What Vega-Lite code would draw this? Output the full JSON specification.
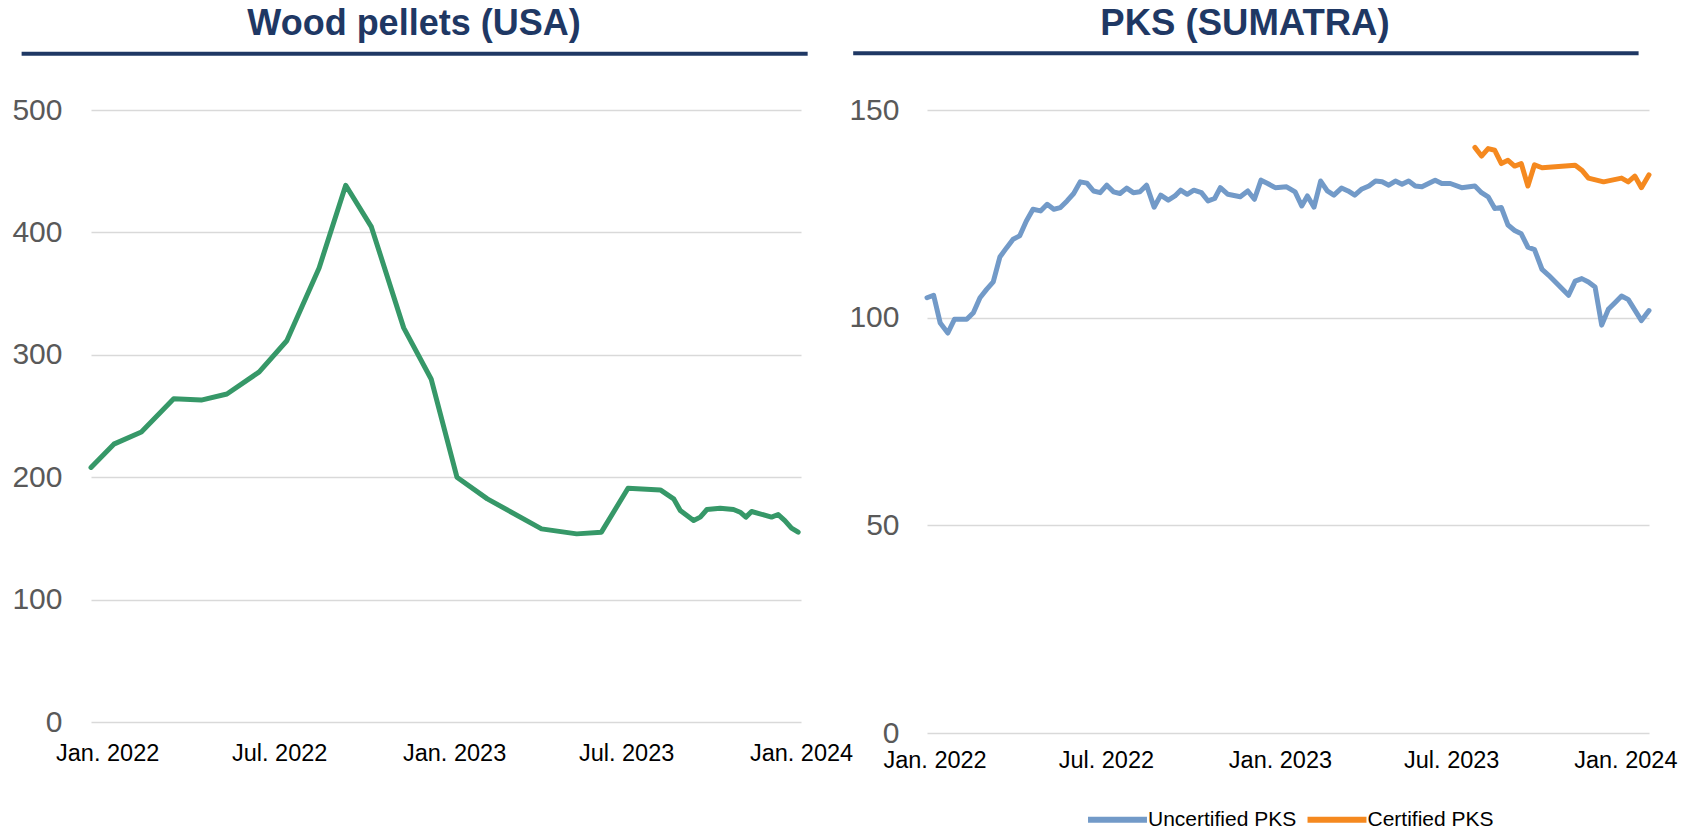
{
  "$schema": "https://vega.github.io/schema/vega-lite/v6.json",
  "background": "white",
  "padding": {"left": 11, "top": 5, "right": 5, "bottom": 0},
  "config": {
    "font": "Liberation Sans",
    "view": {"stroke": null},
    "axis": {"labelFont": "Liberation Sans", "titleFont": "Liberation Sans"},
    "legend": {"labelFont": "Liberation Sans"},
    "title": {"font": "Liberation Sans"}
  },
  "bounds": "flush",
  "spacing": 126,
  "resolve": {
    "scale": {"x": "independent", "y": "independent", "color": "independent"},
    "legend": {"color": "independent"}
  },
  "hconcat": [
    {
      "width": 710,
      "height": 612,
      "title": {"text": "Wood pellets (USA)", "fontSize": 36, "fontWeight": "bold", "color": "#1f3864", "anchor": "middle", "frame": "group", "dx": -32, "offset": 9},
      "layer": [
        {
          "data": {"values": [
            {"date": "2021-12-15", "price": 208},
            {"date": "2022-01-08", "price": 227},
            {"date": "2022-02-06", "price": 237},
            {"date": "2022-03-12", "price": 264},
            {"date": "2022-04-10", "price": 263},
            {"date": "2022-05-07", "price": 268},
            {"date": "2022-06-10", "price": 286},
            {"date": "2022-07-09", "price": 311.5},
            {"date": "2022-08-12", "price": 371},
            {"date": "2022-09-09", "price": 438.5},
            {"date": "2022-10-06", "price": 404.5},
            {"date": "2022-11-09", "price": 322},
            {"date": "2022-12-08", "price": 280},
            {"date": "2023-01-04", "price": 200},
            {"date": "2023-02-05", "price": 182.3},
            {"date": "2023-04-03", "price": 157.8},
            {"date": "2023-05-10", "price": 153.7},
            {"date": "2023-06-05", "price": 155.1},
            {"date": "2023-07-03", "price": 191},
            {"date": "2023-08-06", "price": 189.6},
            {"date": "2023-08-20", "price": 182.3},
            {"date": "2023-08-27", "price": 172.8},
            {"date": "2023-09-10", "price": 164.6},
            {"date": "2023-09-17", "price": 167.4},
            {"date": "2023-09-24", "price": 173.6},
            {"date": "2023-10-08", "price": 174.7},
            {"date": "2023-10-22", "price": 173.6},
            {"date": "2023-10-29", "price": 171.4},
            {"date": "2023-11-04", "price": 167.4},
            {"date": "2023-11-10", "price": 172},
            {"date": "2023-12-01", "price": 167.4},
            {"date": "2023-12-08", "price": 169.5},
            {"date": "2023-12-15", "price": 164.6},
            {"date": "2023-12-22", "price": 158.4},
            {"date": "2023-12-29", "price": 155.1}
          ]},
          "mark": {"type": "line", "color": "#369868", "strokeWidth": 5, "strokeJoin": "round", "strokeCap": "round"},
          "encoding": {
            "x": {
              "field": "date", "type": "temporal",
              "scale": {"type": "utc", "domain": [{"year": 2021, "month": 12, "date": 15, "utc": true}, {"year": 2024, "month": 1, "date": 1, "utc": true}]},
              "axis": {
                "title": null, "format": "%b. %Y", "grid": false, "domain": false, "ticks": false,
                "values": [
                  {"year": 2022, "month": 1, "date": 1, "utc": true},
                  {"year": 2022, "month": 7, "date": 1, "utc": true},
                  {"year": 2023, "month": 1, "date": 1, "utc": true},
                  {"year": 2023, "month": 7, "date": 1, "utc": true},
                  {"year": 2024, "month": 1, "date": 1, "utc": true}
                ],
                "labelPadding": 19, "labelFontSize": 23.5, "labelColor": "#000000",
                "labelFlush": false, "labelOverlap": false, "labelBound": false
              }
            },
            "y": {
              "field": "price", "type": "quantitative",
              "scale": {"domain": [0, 500], "nice": false, "zero": true},
              "axis": {
                "title": null, "values": [0, 100, 200, 300, 400, 500], "grid": true, "gridColor": "#d9d9d9", "gridWidth": 1.5,
                "domain": false, "ticks": false, "labelPadding": 29, "labelFontSize": 30, "labelColor": "#595959"
              }
            }
          }
        },
        {
          "data": {"values": [{}]},
          "mark": {"type": "rule", "color": "#1f3864", "strokeWidth": 4, "clip": false},
          "encoding": {
            "x": {"datum": {"year": 2021, "month": 10, "date": 3, "utc": true}, "type": "temporal", "scale": {"type": "utc"}},
            "x2": {"datum": {"year": 2024, "month": 1, "date": 8, "utc": true}},
            "y": {"datum": 546, "type": "quantitative"}
          }
        }
      ]
    },
    {
      "width": 722,
      "height": 623,
      "title": {"text": "PKS (SUMATRA)", "fontSize": 36.5, "fontWeight": "bold", "color": "#1f3864", "anchor": "middle", "frame": "group", "dx": -43, "offset": 9},
      "layer": [
        {
          "data": {"values": [
            {"date": "2021-12-24", "series": "Uncertified PKS", "price": 104.8},
            {"date": "2021-12-31", "series": "Uncertified PKS", "price": 105.4},
            {"date": "2022-01-07", "series": "Uncertified PKS", "price": 98.7},
            {"date": "2022-01-15", "series": "Uncertified PKS", "price": 96.3},
            {"date": "2022-01-22", "series": "Uncertified PKS", "price": 99.6},
            {"date": "2022-02-04", "series": "Uncertified PKS", "price": 99.6},
            {"date": "2022-02-11", "series": "Uncertified PKS", "price": 101.2},
            {"date": "2022-02-18", "series": "Uncertified PKS", "price": 104.8},
            {"date": "2022-02-25", "series": "Uncertified PKS", "price": 106.8},
            {"date": "2022-03-04", "series": "Uncertified PKS", "price": 108.6},
            {"date": "2022-03-11", "series": "Uncertified PKS", "price": 114.6},
            {"date": "2022-03-18", "series": "Uncertified PKS", "price": 116.8},
            {"date": "2022-03-25", "series": "Uncertified PKS", "price": 118.9},
            {"date": "2022-04-01", "series": "Uncertified PKS", "price": 119.7},
            {"date": "2022-04-08", "series": "Uncertified PKS", "price": 123.3},
            {"date": "2022-04-15", "series": "Uncertified PKS", "price": 126.1},
            {"date": "2022-04-23", "series": "Uncertified PKS", "price": 125.7},
            {"date": "2022-04-30", "series": "Uncertified PKS", "price": 127.3},
            {"date": "2022-05-07", "series": "Uncertified PKS", "price": 126.1},
            {"date": "2022-05-14", "series": "Uncertified PKS", "price": 126.5},
            {"date": "2022-05-21", "series": "Uncertified PKS", "price": 128.1},
            {"date": "2022-05-28", "series": "Uncertified PKS", "price": 129.9},
            {"date": "2022-06-04", "series": "Uncertified PKS", "price": 132.7},
            {"date": "2022-06-11", "series": "Uncertified PKS", "price": 132.4},
            {"date": "2022-06-18", "series": "Uncertified PKS", "price": 130.5},
            {"date": "2022-06-25", "series": "Uncertified PKS", "price": 130.1},
            {"date": "2022-07-02", "series": "Uncertified PKS", "price": 131.9},
            {"date": "2022-07-09", "series": "Uncertified PKS", "price": 130.3},
            {"date": "2022-07-16", "series": "Uncertified PKS", "price": 129.9},
            {"date": "2022-07-23", "series": "Uncertified PKS", "price": 131.2},
            {"date": "2022-07-30", "series": "Uncertified PKS", "price": 130.1},
            {"date": "2022-08-06", "series": "Uncertified PKS", "price": 130.3},
            {"date": "2022-08-13", "series": "Uncertified PKS", "price": 131.9},
            {"date": "2022-08-21", "series": "Uncertified PKS", "price": 126.6},
            {"date": "2022-08-28", "series": "Uncertified PKS", "price": 129.5},
            {"date": "2022-09-05", "series": "Uncertified PKS", "price": 128.3},
            {"date": "2022-09-12", "series": "Uncertified PKS", "price": 129.3},
            {"date": "2022-09-18", "series": "Uncertified PKS", "price": 130.7},
            {"date": "2022-09-25", "series": "Uncertified PKS", "price": 129.7},
            {"date": "2022-10-02", "series": "Uncertified PKS", "price": 130.7},
            {"date": "2022-10-10", "series": "Uncertified PKS", "price": 130.1},
            {"date": "2022-10-17", "series": "Uncertified PKS", "price": 128.1},
            {"date": "2022-10-24", "series": "Uncertified PKS", "price": 128.7},
            {"date": "2022-10-30", "series": "Uncertified PKS", "price": 131.3},
            {"date": "2022-11-07", "series": "Uncertified PKS", "price": 129.7},
            {"date": "2022-11-20", "series": "Uncertified PKS", "price": 129.1},
            {"date": "2022-11-28", "series": "Uncertified PKS", "price": 130.5},
            {"date": "2022-12-05", "series": "Uncertified PKS", "price": 128.5},
            {"date": "2022-12-12", "series": "Uncertified PKS", "price": 133.1},
            {"date": "2022-12-19", "series": "Uncertified PKS", "price": 132.3},
            {"date": "2022-12-27", "series": "Uncertified PKS", "price": 131.3},
            {"date": "2023-01-08", "series": "Uncertified PKS", "price": 131.5},
            {"date": "2023-01-17", "series": "Uncertified PKS", "price": 130.3},
            {"date": "2023-01-24", "series": "Uncertified PKS", "price": 126.9},
            {"date": "2023-01-30", "series": "Uncertified PKS", "price": 129.3},
            {"date": "2023-02-06", "series": "Uncertified PKS", "price": 126.6},
            {"date": "2023-02-13", "series": "Uncertified PKS", "price": 132.9},
            {"date": "2023-02-20", "series": "Uncertified PKS", "price": 130.5},
            {"date": "2023-02-27", "series": "Uncertified PKS", "price": 129.5},
            {"date": "2023-03-07", "series": "Uncertified PKS", "price": 131.2},
            {"date": "2023-03-14", "series": "Uncertified PKS", "price": 130.5},
            {"date": "2023-03-21", "series": "Uncertified PKS", "price": 129.5},
            {"date": "2023-03-28", "series": "Uncertified PKS", "price": 130.9},
            {"date": "2023-04-05", "series": "Uncertified PKS", "price": 131.7},
            {"date": "2023-04-12", "series": "Uncertified PKS", "price": 132.9},
            {"date": "2023-04-19", "series": "Uncertified PKS", "price": 132.7},
            {"date": "2023-04-26", "series": "Uncertified PKS", "price": 131.9},
            {"date": "2023-05-03", "series": "Uncertified PKS", "price": 132.9},
            {"date": "2023-05-10", "series": "Uncertified PKS", "price": 132.1},
            {"date": "2023-05-17", "series": "Uncertified PKS", "price": 132.9},
            {"date": "2023-05-24", "series": "Uncertified PKS", "price": 131.7},
            {"date": "2023-05-31", "series": "Uncertified PKS", "price": 131.5},
            {"date": "2023-06-14", "series": "Uncertified PKS", "price": 133.1},
            {"date": "2023-06-21", "series": "Uncertified PKS", "price": 132.3},
            {"date": "2023-06-30", "series": "Uncertified PKS", "price": 132.3},
            {"date": "2023-07-12", "series": "Uncertified PKS", "price": 131.3},
            {"date": "2023-07-26", "series": "Uncertified PKS", "price": 131.7},
            {"date": "2023-08-02", "series": "Uncertified PKS", "price": 130.1},
            {"date": "2023-08-09", "series": "Uncertified PKS", "price": 129.1},
            {"date": "2023-08-16", "series": "Uncertified PKS", "price": 126.3},
            {"date": "2023-08-23", "series": "Uncertified PKS", "price": 126.5},
            {"date": "2023-08-30", "series": "Uncertified PKS", "price": 122.3},
            {"date": "2023-09-06", "series": "Uncertified PKS", "price": 121.0},
            {"date": "2023-09-13", "series": "Uncertified PKS", "price": 120.2},
            {"date": "2023-09-20", "series": "Uncertified PKS", "price": 117.0},
            {"date": "2023-09-27", "series": "Uncertified PKS", "price": 116.4},
            {"date": "2023-10-05", "series": "Uncertified PKS", "price": 111.6},
            {"date": "2023-10-12", "series": "Uncertified PKS", "price": 110.2},
            {"date": "2023-11-02", "series": "Uncertified PKS", "price": 105.4},
            {"date": "2023-11-09", "series": "Uncertified PKS", "price": 108.8},
            {"date": "2023-11-16", "series": "Uncertified PKS", "price": 109.4},
            {"date": "2023-11-23", "series": "Uncertified PKS", "price": 108.6},
            {"date": "2023-11-30", "series": "Uncertified PKS", "price": 107.4},
            {"date": "2023-12-07", "series": "Uncertified PKS", "price": 98.2},
            {"date": "2023-12-14", "series": "Uncertified PKS", "price": 102.0},
            {"date": "2023-12-21", "series": "Uncertified PKS", "price": 103.6},
            {"date": "2023-12-28", "series": "Uncertified PKS", "price": 105.2},
            {"date": "2024-01-04", "series": "Uncertified PKS", "price": 104.4},
            {"date": "2024-01-18", "series": "Uncertified PKS", "price": 99.3},
            {"date": "2024-01-26", "series": "Uncertified PKS", "price": 101.7},
            {"date": "2023-07-26", "series": "Certified PKS", "price": 141.0},
            {"date": "2023-08-02", "series": "Certified PKS", "price": 138.9},
            {"date": "2023-08-09", "series": "Certified PKS", "price": 140.7},
            {"date": "2023-08-16", "series": "Certified PKS", "price": 140.3},
            {"date": "2023-08-23", "series": "Certified PKS", "price": 137.1},
            {"date": "2023-08-30", "series": "Certified PKS", "price": 137.9},
            {"date": "2023-09-06", "series": "Certified PKS", "price": 136.5},
            {"date": "2023-09-13", "series": "Certified PKS", "price": 137.1},
            {"date": "2023-09-20", "series": "Certified PKS", "price": 131.7},
            {"date": "2023-09-27", "series": "Certified PKS", "price": 136.8},
            {"date": "2023-10-05", "series": "Certified PKS", "price": 136.1},
            {"date": "2023-11-09", "series": "Certified PKS", "price": 136.7},
            {"date": "2023-11-16", "series": "Certified PKS", "price": 135.5},
            {"date": "2023-11-23", "series": "Certified PKS", "price": 133.6},
            {"date": "2023-12-09", "series": "Certified PKS", "price": 132.7},
            {"date": "2023-12-28", "series": "Certified PKS", "price": 133.6},
            {"date": "2024-01-04", "series": "Certified PKS", "price": 132.7},
            {"date": "2024-01-11", "series": "Certified PKS", "price": 134.1},
            {"date": "2024-01-18", "series": "Certified PKS", "price": 131.3},
            {"date": "2024-01-26", "series": "Certified PKS", "price": 134.4}
          ]},
          "mark": {"type": "line", "strokeWidth": 5, "strokeJoin": "round", "strokeCap": "round"},
          "encoding": {
            "x": {
              "field": "date", "type": "temporal",
              "scale": {"type": "utc", "domain": [{"year": 2021, "month": 12, "date": 24, "utc": true}, {"year": 2024, "month": 1, "date": 26, "utc": true}]},
              "axis": {
                "title": null, "format": "%b. %Y", "grid": false, "domain": false, "ticks": false,
                "values": [
                  {"year": 2022, "month": 1, "date": 1, "utc": true},
                  {"year": 2022, "month": 7, "date": 1, "utc": true},
                  {"year": 2023, "month": 1, "date": 1, "utc": true},
                  {"year": 2023, "month": 7, "date": 1, "utc": true},
                  {"year": 2024, "month": 1, "date": 1, "utc": true}
                ],
                "labelPadding": 15, "labelFontSize": 23.5, "labelColor": "#000000",
                "labelFlush": false, "labelOverlap": false, "labelBound": false
              }
            },
            "y": {
              "field": "price", "type": "quantitative",
              "scale": {"domain": [0, 150], "nice": false, "zero": true},
              "axis": {
                "title": null, "values": [0, 50, 100, 150], "grid": true, "gridColor": "#d9d9d9", "gridWidth": 1.5,
                "domain": false, "ticks": false, "labelPadding": 28, "labelFontSize": 30, "labelColor": "#595959"
              }
            },
            "color": {
              "field": "series", "type": "nominal",
              "scale": {"domain": ["Uncertified PKS", "Certified PKS"], "range": ["#729ac8", "#f5891f"]},
              "legend": {
                "orient": "none", "legendX": 180, "legendY": 699, "direction": "horizontal", "title": null,
                "symbolType": "M-5,0H5", "symbolSize": 139, "symbolStrokeWidth": 6,
                "labelFontSize": 21, "labelColor": "#000000", "labelOffset": 20, "columnPadding": -1.5, "padding": 0
              }
            }
          }
        },
        {
          "data": {"values": [{}]},
          "mark": {"type": "rule", "color": "#1f3864", "strokeWidth": 4, "clip": false},
          "encoding": {
            "x": {"datum": {"year": 2021, "month": 10, "date": 7, "utc": true}, "type": "temporal", "scale": {"type": "utc"}},
            "x2": {"datum": {"year": 2024, "month": 1, "date": 15, "utc": true}},
            "y": {"datum": 163.65, "type": "quantitative"}
          }
        }
      ]
    }
  ]
}
